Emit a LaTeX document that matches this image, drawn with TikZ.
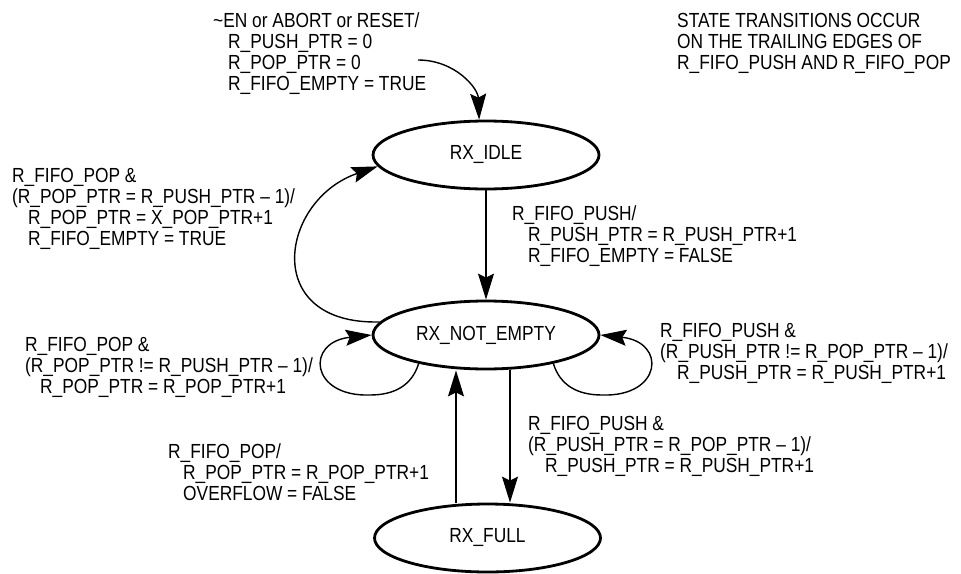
\documentclass[tikz,border=0pt]{standalone}
\usepackage{fontspec}
\setmainfont[FakeStretch=0.85]{Liberation Sans}
\usetikzlibrary{shapes.geometric,arrows.meta,calc}
\begin{document}
\begin{tikzpicture}[x=1pt,y=-1pt,
  state/.style={ellipse,draw,line width=2.8pt,minimum width=226pt,minimum height=68pt,inner sep=0pt,font=\fontsize{20.4}{20.7}\selectfont},
  lbl/.style={anchor=base west,align=left,inner sep=0pt,font=\fontsize{20.4}{20.7}\selectfont},
  tr/.style={line width=1.4pt,-{Stealth[length=26pt,width=16pt,inset=4pt]}}]
\useasboundingbox (0,0) rectangle (961,573);
\node[state] (idle) at (486,155) {RX\_IDLE};
\node[state] (ne) at (486,335) {RX\_NOT\_EMPTY};
\node[state] (full) at (487.5,538) {RX\_FULL};
\coordinate (init) at (418,60);
\draw[tr] (init) .. controls (455,60) and (478,88) .. (idle.101);
\draw[tr] (idle.south) -- (ne.north);
\draw[tr] ([xshift=24pt]ne.south) -- ([xshift=22.5pt]full.north);
\draw[tr] ([xshift=-31.5pt]full.north) -- ([xshift=-30pt]ne.south);
\draw[tr] (ne.173) .. controls (260,325) and (280,200) .. (idle.186);
\draw[tr] (ne.203) .. controls (412,385) and (395,395) .. (370,395) .. controls (310,397) and (305,342) .. (ne.west);
\draw[tr] (ne.-23) .. controls (560,385) and (577,395) .. (602,395) .. controls (662,397) and (667,342) .. (ne.east);
\node[lbl] (la) at (213,90) {\textasciitilde EN or ABORT or RESET/\\\hspace*{15pt}R\_PUSH\_PTR = 0\\\hspace*{15pt}R\_POP\_PTR = 0\\\hspace*{15pt}R\_FIFO\_EMPTY = TRUE};
\node[lbl] (note) at (677,69) {STATE TRANSITIONS OCCUR\\ON THE TRAILING EDGES OF\\R\_FIFO\_PUSH AND R\_FIFO\_POP};
\node[lbl] (lb) at (12,245) {R\_FIFO\_POP \&\\(R\_POP\_PTR = R\_PUSH\_PTR – 1)/\\\hspace*{16pt}R\_POP\_PTR = X\_POP\_PTR+1\\\hspace*{16pt}R\_FIFO\_EMPTY = TRUE};
\node[lbl] (lc) at (512,262) {R\_FIFO\_PUSH/\\\hspace*{16pt}R\_PUSH\_PTR = R\_PUSH\_PTR+1\\\hspace*{16pt}R\_FIFO\_EMPTY = FALSE};
\node[lbl] (ld) at (25,393) {R\_FIFO\_POP \&\\(R\_POP\_PTR != R\_PUSH\_PTR – 1)/\\\hspace*{15pt}R\_POP\_PTR = R\_POP\_PTR+1};
\node[lbl] (le) at (660,379) {R\_FIFO\_PUSH \&\\(R\_PUSH\_PTR != R\_POP\_PTR – 1)/\\\hspace*{17pt}R\_PUSH\_PTR = R\_PUSH\_PTR+1};
\node[lbl] (lf) at (528,472) {R\_FIFO\_PUSH \&\\(R\_PUSH\_PTR = R\_POP\_PTR – 1)/\\\hspace*{17pt}R\_PUSH\_PTR = R\_PUSH\_PTR+1};
\node[lbl] (lg) at (168,500) {R\_FIFO\_POP/\\\hspace*{15pt}R\_POP\_PTR = R\_POP\_PTR+1\\\hspace*{15pt}OVERFLOW = FALSE};
\end{tikzpicture}
\end{document}
